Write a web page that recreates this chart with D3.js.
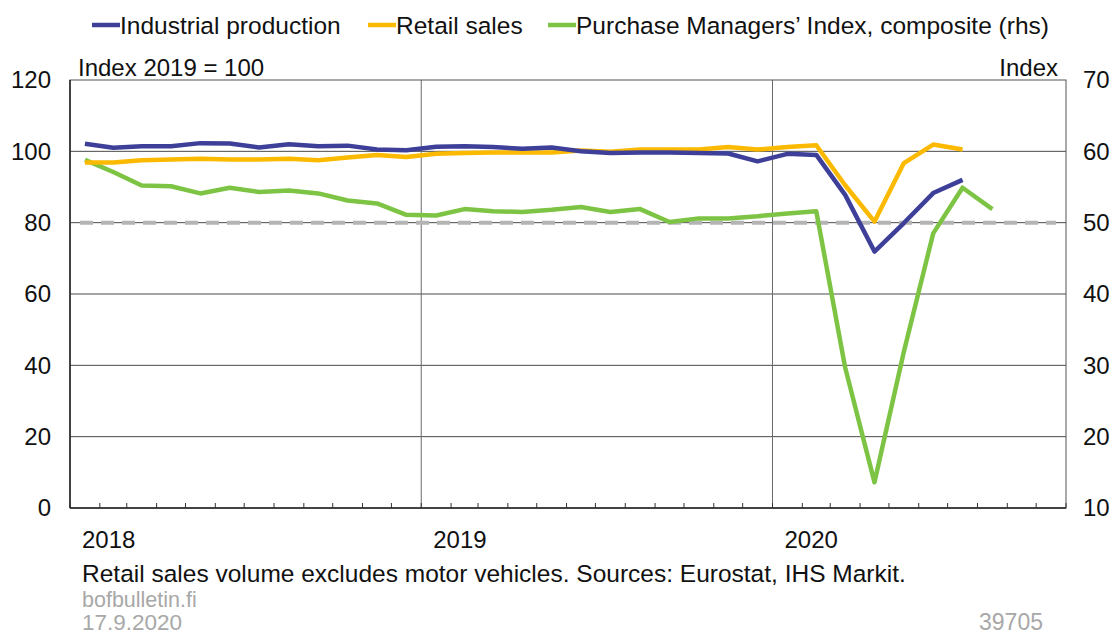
<!DOCTYPE html>
<html>
<head>
<meta charset="utf-8">
<script src="https://cdn.jsdelivr.net/npm/d3@7"></script>
<style>
  html, body { margin: 0; padding: 0; background: #fff; }
  svg { display: block; font-family: "Liberation Sans", Arial, sans-serif; }
</style>
</head>
<body>
<svg id="chart" width="1118" height="634"></svg>
<script>
// ---- data ----
const seriesNames = ["Industrial production", "Retail sales", "Purchase Managers\u2019 Index, composite (rhs)"];
const seriesColors = ["#3d3f98", "#fbb900", "#7dc444"];
const startYear = 2018;
const industrial = [102.1, 101.0, 101.4, 101.4, 102.3, 102.2, 101.1, 102.0, 101.4, 101.6, 100.5, 100.3,
                    101.3, 101.4, 101.2, 100.7, 101.1, 100.0, 99.5, 99.7, 99.7, 99.5, 99.4, 97.2,
                    99.3, 99.0, 87.8, 71.9, 79.9, 88.3, 92.0];
const retail = [96.9, 96.9, 97.5, 97.7, 97.9, 97.7, 97.7, 97.9, 97.5, 98.3, 99.0, 98.4,
                99.3, 99.5, 99.7, 99.7, 99.7, 100.2, 99.9, 100.5, 100.5, 100.5, 101.2, 100.5,
                101.2, 101.7, 90.5, 80.3, 96.7, 101.9, 100.5];
const pmi = [58.8, 57.1, 55.2, 55.1, 54.1, 54.9, 54.3, 54.5, 54.1, 53.1, 52.7, 51.1,
             51.0, 51.9, 51.6, 51.5, 51.8, 52.2, 51.5, 51.9, 50.1, 50.6, 50.6, 50.9,
             51.3, 51.6, 29.7, 13.6, 31.9, 48.5, 54.9, 51.9];
const leftTicks = [0, 20, 40, 60, 80, 100, 120];
const rightTicks = [10, 20, 30, 40, 50, 60, 70];
const yearLabels = ["2018", "2019", "2020"];
const referenceLevel = 80;
const leftTitle = "Index 2019 = 100";
const rightTitle = "Index";
const footnote = "Retail sales volume excludes motor vehicles. Sources: Eurostat, IHS Markit.";
const source = "bofbulletin.fi";
const dateText = "17.9.2020";
const chartId = "39705";

// ---- layout ----
const svg = d3.select("#chart");
const L = 70, R = 1066, T = 80, B = 508;

const x = d3.scaleTime()
  .domain([new Date(2018, 0, 1), new Date(2020, 10, 1)])
  .range([L, R]);
const yL = d3.scaleLinear().domain([0, 120]).range([B, T]);
const yR = d3.scaleLinear().domain([10, 70]).range([B, T]);

const midMonth = i => {
  const a = new Date(startYear, i, 1), b = new Date(startYear, i + 1, 1);
  return new Date((a.getTime() + b.getTime()) / 2);
};

// grid lines
const g = svg.append("g");
g.selectAll("line.h").data(leftTicks.filter(t => t > 0 && t < 120)).enter()
  .append("line")
  .attr("x1", L).attr("x2", R)
  .attr("y1", d => yL(d)).attr("y2", d => yL(d))
  .attr("stroke", "#4a4a4a").attr("stroke-width", 1);

const yearStarts = yearLabels.map(y => new Date(+y, 0, 1));
g.selectAll("line.v").data(yearStarts.slice(1)).enter()
  .append("line")
  .attr("x1", d => x(d)).attr("x2", d => x(d))
  .attr("y1", T).attr("y2", B)
  .attr("stroke", "#6a6a6a").attr("stroke-width", 1);

// dashed reference line
g.append("line")
  .attr("x1", L + 10).attr("x2", R - 10)
  .attr("y1", yL(referenceLevel)).attr("y2", yL(referenceLevel))
  .attr("stroke", "#b4b4b4").attr("stroke-width", 4)
  .attr("stroke-dasharray", "13,8");

// frame
svg.append("rect").attr("x", L).attr("y", T).attr("width", R - L).attr("height", B - T)
  .attr("fill", "none").attr("stroke", "#555").attr("stroke-width", 1);
svg.append("line").attr("x1", L).attr("x2", L).attr("y1", T).attr("y2", B)
  .attr("stroke", "#222").attr("stroke-width", 1.5);
svg.append("line").attr("x1", L).attr("x2", R).attr("y1", B).attr("y2", B)
  .attr("stroke", "#222").attr("stroke-width", 1.5);

// month ticks on bottom axis
const monthTicks = d3.timeMonth.range(new Date(2018, 0, 1), new Date(2020, 10, 2));
svg.append("g").selectAll("line").data(monthTicks).enter()
  .append("line")
  .attr("x1", d => x(d)).attr("x2", d => x(d))
  .attr("y1", B).attr("y2", B - 5)
  .attr("stroke", "#333").attr("stroke-width", 1);

// left axis labels
svg.append("g").selectAll("text").data(leftTicks).enter()
  .append("text")
  .attr("x", 51).attr("y", d => yL(d)).attr("dy", "0.35em")
  .attr("text-anchor", "end").attr("font-size", 24).attr("fill", "#111")
  .text(d => d);
// right axis labels
svg.append("g").selectAll("text").data(rightTicks).enter()
  .append("text")
  .attr("x", 1083).attr("y", d => yR(d)).attr("dy", "0.35em")
  .attr("text-anchor", "start").attr("font-size", 24).attr("fill", "#111")
  .text(d => d);

svg.append("text").attr("x", 78).attr("y", 76).attr("font-size", 24).attr("fill", "#111").text(leftTitle);
svg.append("text").attr("x", 1058).attr("y", 76).attr("text-anchor", "end").attr("font-size", 24).attr("fill", "#111").text(rightTitle);

// year labels
svg.append("g").selectAll("text").data(yearLabels).enter()
  .append("text")
  .attr("x", d => x(new Date(+d, 0, 1)) + 12).attr("y", 548)
  .attr("font-size", 24).attr("fill", "#111")
  .text(d => d);

// series lines
const lineL = d3.line().x((d, i) => x(midMonth(i))).y(d => yL(d)).curve(d3.curveLinear);
const lineR = d3.line().x((d, i) => x(midMonth(i))).y(d => yR(d)).curve(d3.curveLinear);
const lines = svg.append("g").attr("fill", "none").attr("stroke-width", 4.5)
  .attr("stroke-linejoin", "round").attr("stroke-linecap", "butt");
lines.append("path").datum(pmi).attr("d", lineR).attr("stroke", seriesColors[2]);
lines.append("path").datum(retail).attr("d", lineL).attr("stroke", seriesColors[1]);
lines.append("path").datum(industrial).attr("d", lineL).attr("stroke", seriesColors[0]);

// legend
const legendX = [92, 368, 548];
const leg = svg.append("g").selectAll("g").data(seriesNames).enter().append("g")
  .attr("transform", (d, i) => `translate(${legendX[i]},25)`);
leg.append("line").attr("x1", 0).attr("x2", 28).attr("y1", 0).attr("y2", 0)
  .attr("stroke", (d, i) => seriesColors[i]).attr("stroke-width", 4.5);
leg.append("text").attr("x", 28).attr("y", 0).attr("dy", "0.35em")
  .attr("font-size", 24.5).attr("fill", "#111").text(d => d);

// footer
svg.append("text").attr("x", 82).attr("y", 582).attr("font-size", 24.5).attr("fill", "#111").text(footnote);
svg.append("text").attr("x", 82).attr("y", 607).attr("font-size", 21.5).attr("fill", "#a8a8a8").text(source);
svg.append("text").attr("x", 82).attr("y", 630).attr("font-size", 22.5).attr("fill", "#a8a8a8").text(dateText);
svg.append("text").attr("x", 1043).attr("y", 630).attr("text-anchor", "end").attr("font-size", 23).attr("fill", "#a8a8a8").text(chartId);
</script>
</body>
</html>
